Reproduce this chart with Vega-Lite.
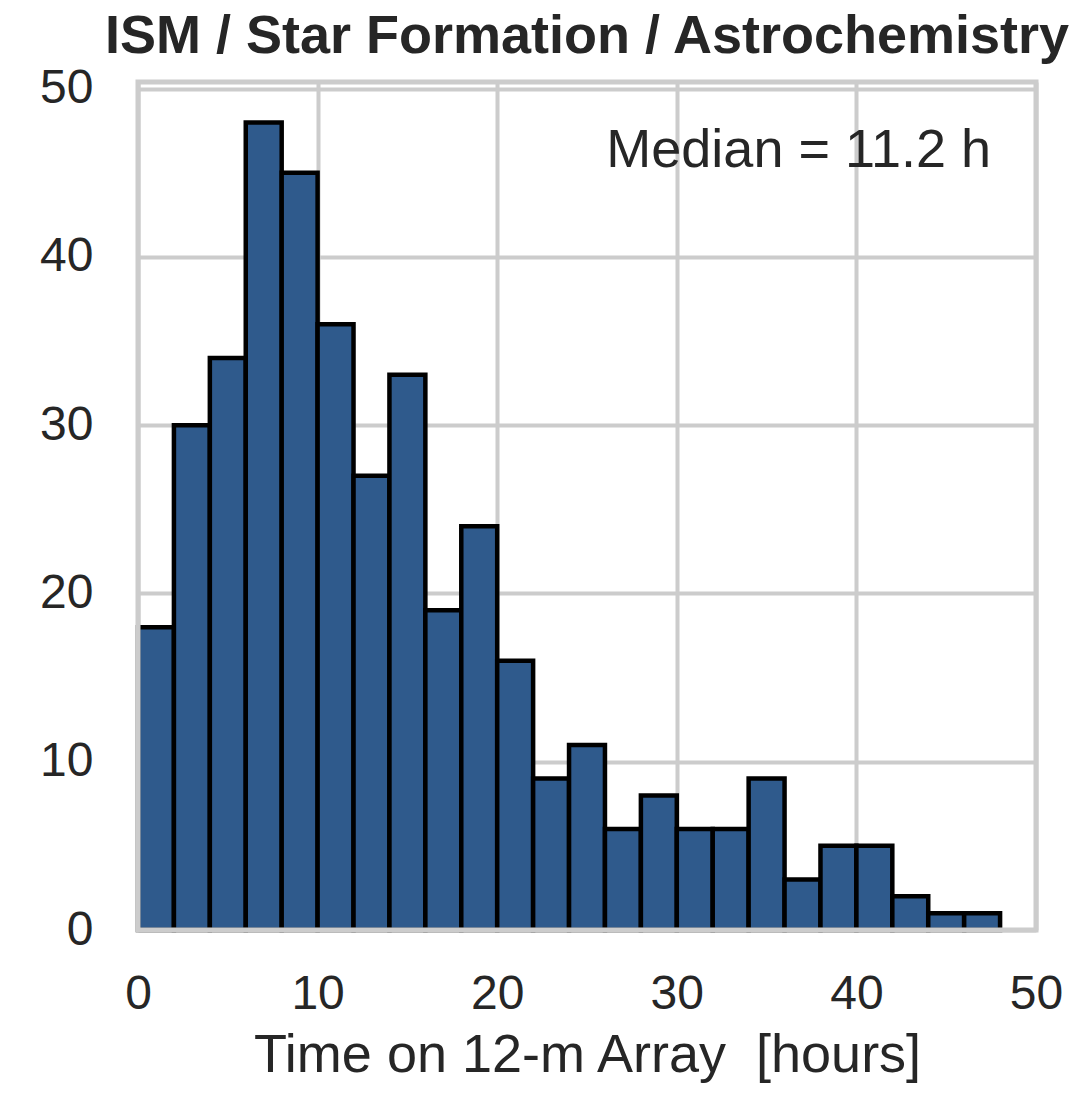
{
  "$schema": "https://vega.github.io/schema/vega-lite/v6.json",
  "width": 898,
  "height": 848,
  "autosize": {"type": "none"},
  "padding": {"left": 138, "top": 82, "right": 41, "bottom": 163},
  "background": "white",
  "config": {"view": {"stroke": null}, "font": "Liberation Sans"},
  "title": {
    "text": "ISM / Star Formation / Astrochemistry",
    "fontSize": 54,
    "fontWeight": "bold",
    "font": "Liberation Sans",
    "color": "#262626",
    "anchor": "middle",
    "baseline": "alphabetic",
    "offset": -42,
    "frame": "group"
  },
  "layer": [
    {
      "data": {
        "values": [
          {"bin_start": 0, "bin_end": 2, "count": 18},
          {"bin_start": 2, "bin_end": 4, "count": 30},
          {"bin_start": 4, "bin_end": 6, "count": 34},
          {"bin_start": 6, "bin_end": 8, "count": 48},
          {"bin_start": 8, "bin_end": 10, "count": 45},
          {"bin_start": 10, "bin_end": 12, "count": 36},
          {"bin_start": 12, "bin_end": 14, "count": 27},
          {"bin_start": 14, "bin_end": 16, "count": 33},
          {"bin_start": 16, "bin_end": 18, "count": 19},
          {"bin_start": 18, "bin_end": 20, "count": 24},
          {"bin_start": 20, "bin_end": 22, "count": 16},
          {"bin_start": 22, "bin_end": 24, "count": 9},
          {"bin_start": 24, "bin_end": 26, "count": 11},
          {"bin_start": 26, "bin_end": 28, "count": 6},
          {"bin_start": 28, "bin_end": 30, "count": 8},
          {"bin_start": 30, "bin_end": 32, "count": 6},
          {"bin_start": 32, "bin_end": 34, "count": 6},
          {"bin_start": 34, "bin_end": 36, "count": 9},
          {"bin_start": 36, "bin_end": 38, "count": 3},
          {"bin_start": 38, "bin_end": 40, "count": 5},
          {"bin_start": 40, "bin_end": 42, "count": 5},
          {"bin_start": 42, "bin_end": 44, "count": 2},
          {"bin_start": 44, "bin_end": 46, "count": 1},
          {"bin_start": 46, "bin_end": 48, "count": 1}
        ]
      },
      "mark": {"type": "rect", "fill": "#2f5a8c", "stroke": "black", "strokeWidth": 4.5},
      "encoding": {
        "x": {
          "field": "bin_start",
          "type": "quantitative",
          "scale": {"domain": [0, 50], "nice": false, "zero": false},
          "axis": {
            "values": [0, 10, 20, 30, 40, 50],
            "title": "Time on 12-m Array \u00a0[hours]",
            "titleFontSize": 54,
            "titleFontWeight": "normal",
            "titleColor": "#262626",
            "titleBaseline": "alphabetic",
            "titlePadding": 53,
            "labelFontSize": 48,
            "labelColor": "#262626",
            "labelBaseline": "alphabetic",
            "labelPadding": 78,
            "labelFlush": false,
            "ticks": false,
            "tickSize": 0,
            "domain": false,
            "grid": true,
            "gridColor": "#cccccc",
            "gridWidth": 4
          }
        },
        "x2": {"field": "bin_end"},
        "y": {
          "field": "count",
          "type": "quantitative",
          "scale": {"domain": [0, 50.4], "nice": false},
          "axis": {
            "values": [0, 10, 20, 30, 40, 50],
            "title": null,
            "labelFontSize": 48,
            "labelColor": "#262626",
            "labelBaseline": "middle",
            "labelPadding": 45,
            "labelFlush": false,
            "ticks": false,
            "tickSize": 0,
            "domain": false,
            "grid": true,
            "gridColor": "#cccccc",
            "gridWidth": 4
          }
        }
      }
    },
    {
      "data": {"values": [{"x0": 0, "x1": 50, "y0": 0, "y1": 50.4}]},
      "mark": {"type": "rect", "fill": "transparent", "stroke": "#cccccc", "strokeWidth": 5},
      "encoding": {
        "x": {"field": "x0", "type": "quantitative"},
        "x2": {"field": "x1"},
        "y": {"field": "y0", "type": "quantitative"},
        "y2": {"field": "y1"}
      }
    },
    {
      "data": {"values": [{"label": "Median = 11.2 h"}]},
      "mark": {"type": "text", "align": "right", "baseline": "alphabetic", "fontSize": 54, "color": "#262626", "font": "Liberation Sans"},
      "encoding": {
        "x": {"datum": 47.5, "type": "quantitative"},
        "y": {"datum": 45.36, "type": "quantitative"},
        "text": {"field": "label"}
      }
    }
  ]
}
